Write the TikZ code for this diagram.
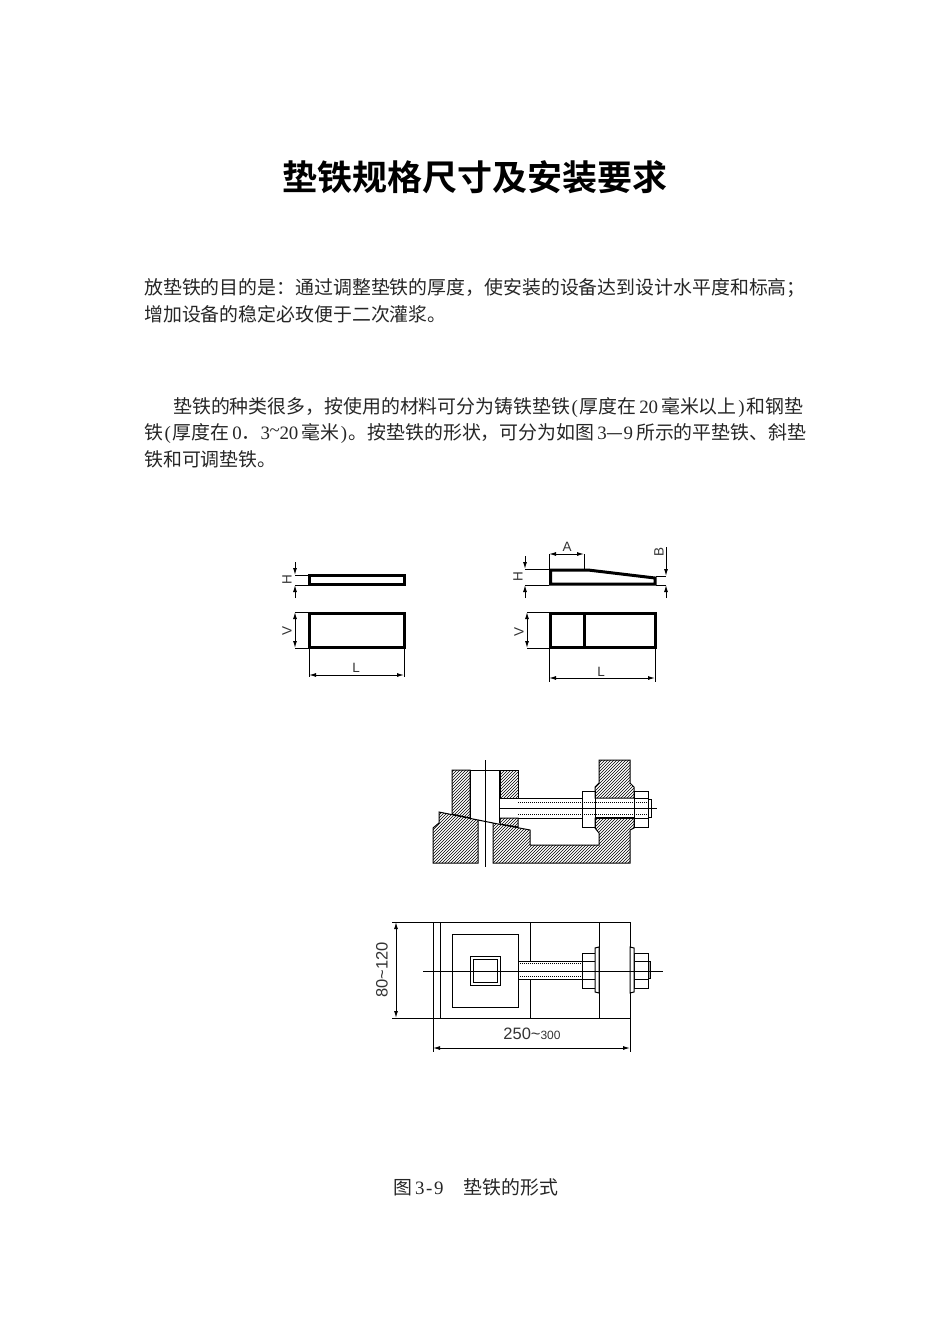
\documentclass[tikz,border=0pt]{standalone}
\usepackage{fontspec}
\usepackage{tikz}
\usetikzlibrary{patterns, positioning, arrows.meta}
\newfontfamily\cjk{Noto Sans CJK SC}
\newfontfamily\cjkb{Noto Sans CJK SC Bold}
\newfontfamily\latn{Liberation Serif}
\setsansfont{Liberation Sans}
\newcommand{\jz}[1]{\fontsize{#1}{#1}\selectfont}
\newcommand{\hw}[1]{{\latn\jz{18.9}\makebox[9.45pt]{#1}}}
\newcommand{\gp}{\hspace{3pt}}
\tikzset{%
    bodyline/.style={anchor=west, inner sep=0pt, text=black!85, font=\cjk\jz{18.9}},
    thickline/.style={line width=3pt, line join=miter},
    thinline/.style={line width=1pt},
    dimboth/.style={line width=1pt, {Latex[length=7pt,width=4pt]}-{Latex[length=7pt,width=4pt]}},
    dimin/.style={line width=1pt, -{Latex[length=7pt,width=4pt]}},
    dimlabel/.style={inner sep=0pt, text=black!80, font=\sffamily\jz{13.5}},
    biglabel/.style={inner sep=0pt, text=black!80, font=\sffamily\jz{16.5}},
    hatched/.style={draw, line width=1pt, pattern=north east lines}
}
\begin{document}
\begin{tikzpicture}[x=1pt,y=-1pt]
    \useasboundingbox (0,0) rectangle (950,1344);
    % text
    \node (title) [inner sep=0pt, font=\cjkb\jz{35}] at (475,177) {垫铁规格尺寸及安装要求};
    \node (p1) [bodyline] at (144,288) {放垫铁的目的是：通过调整垫铁的厚度，使安装的设备达到设计水平度和标高；};
    \node (p2) [bodyline] at (144,314) {增加设备的稳定必玫便于二次灌浆。};
    \node (p3) [bodyline] at (173,407) {垫铁的种类很多，按使用的材料可分为铸铁垫铁\hw{(}厚度在\gp\hw{2}\hw{0}\gp 毫米以上\hw{)}和钢垫};
    \node (p4) [bodyline] at (144,433) {铁\hw{(}厚度在\gp\hw{0}．\hw{3}\raisebox{3pt}{\hw{\char`\~}}\hw{2}\hw{0}\gp 毫米\hw{)}。按垫铁的形状，可分为如图\gp\hw{3}—\hw{9}\gp 所示的平垫铁、斜垫};
    \node (p5) [bodyline] at (144,459) {铁和可调垫铁。};
    \node (cap) [bodyline] at (393,1187) {图\gp\hw{3}\hw{-}\hw{9}\hspace{20pt}垫铁的形式};

    % flat pad
    \draw[thickline] (309.5,575.5) rectangle (404,584);
    \draw[thickline] (309.5,613.5) rectangle (404,647);
    \draw[thinline] (295,575) -- (308,575) (295,585) -- (308,585);
    \draw[dimin] (295,562) -- (295,575);
    \draw[dimin] (295,598) -- (295,585);
    \node (flatH) [dimlabel, rotate=90] at (287,580) {H};
    \draw[thinline] (295,612) -- (308,612) (295,648) -- (308,648);
    \draw[dimboth] (295,612) -- (295,648);
    \node (flatV) [dimlabel, rotate=90] at (287,631) {V};
    \draw[thinline] (309,648) -- (309,677) (404,648) -- (404,677);
    \draw[dimboth] (309,675) -- (404,675);
    \node (flatL) [dimlabel] at (356,668) {L};

    % taper pad
    \draw[thickline] (550.5,570) -- (588,570) -- (655,578) -- (655,584) -- (550.5,584) -- cycle;
    \draw[thickline] (550.5,613.5) rectangle (655,647);
    \draw[thickline] (584,613) -- (584,647);
    \draw[thinline] (525,569) -- (549,569) (525,585) -- (549,585);
    \draw[dimin] (525,556) -- (525,569);
    \draw[dimin] (525,598) -- (525,585);
    \node (taperH) [dimlabel, rotate=90] at (518,577) {H};
    \draw[thinline] (549,554) -- (549,569) (584,554) -- (584,569);
    \draw[dimboth] (549,554) -- (584,554);
    \node (taperA) [dimlabel] at (567,547) {A};
    \draw[thinline] (656,576) -- (666,576) (656,585) -- (666,585);
    \draw[dimin] (666,547) -- (666,576);
    \draw[dimin] (666,598) -- (666,585);
    \node (taperB) [dimlabel, rotate=90] at (659,552) {B};
    \draw[thinline] (527,612) -- (549,612) (527,648) -- (549,648);
    \draw[dimboth] (527,612) -- (527,648);
    \node (taperV) [dimlabel, rotate=90] at (519,632) {V};
    \draw[thinline] (549,648) -- (549,682) (655,648) -- (655,682);
    \draw[dimboth] (549,678) -- (655,678);
    \node (taperL) [dimlabel] at (601,672) {L};

    % adjustable pad, section
    \draw[hatched] (452,770) -- (470,770) -- (470,818) -- (452,814) -- cycle;
    \draw[hatched] (500,770) -- (518,770) -- (518,798) -- (500,798) -- cycle;
    \draw[hatched] (500,818) -- (518,818) -- (518,827) -- (500,824) -- cycle;
    \draw[hatched] (439,812) -- (478,820) -- (478,863) -- (433,863) -- (433,828) -- (439,823) -- cycle;
    \draw[hatched] (493,823) -- (530,830) -- (530,845) -- (599,845) -- (599,833) -- (595,828) -- (595,818)
        -- (634,818) -- (634,828) -- (630,830) -- (630,863) -- (493,863) -- cycle;
    \draw[hatched] (599,760) -- (630,760) -- (630,783) -- (634,787) -- (634,798) -- (595,798) -- (595,787) -- (599,783) -- cycle;
    \draw[line width=1.6pt] (595,818) -- (634,818);
    \draw[thinline] (470,770) -- (500,770);
    \draw[thinline] (478,820) -- (493,823);
    \draw[thinline] (485,760) -- (485,867);
    \draw[thinline] (470,770) -- (470,818) (499,770) -- (499,823);
    \draw[thinline] (518,798) -- (582,798) (518,818) -- (582,818);
    \draw[thinline] (500,808) -- (657,808);
    \foreach \ybolt in {802,814} {
        \draw[thinline, densely dotted] (518,\ybolt) -- (648,\ybolt);
    }
    \draw[thinline] (582,791) rectangle (595,827);
    \draw[thinline] (634,791) rectangle (648,827);
    \draw[thinline] (634,798) -- (648,798) (634,818) -- (648,818);
    \draw[thinline] (595,798) -- (595,818);
    \draw[thinline] (634,798) -- (634,818);
    \draw[thinline] (648,799) rectangle (651,817);

    % adjustable pad, plan
    \draw[thinline] (392,922) -- (630,922) (392,1018) -- (630,1018);
    \draw[thinline] (433,922) -- (433,1052) (630,922) -- (630,1052);
    \foreach \xline in {440,530,599} {
        \draw[thinline] (\xline,922) -- (\xline,1018);
    }
    \draw[thinline, fill=white] (452,934) rectangle (518,1007);
    \draw[thinline] (470,956) rectangle (500,985);
    \draw[thinline] (473,959) rectangle (497,982);
    \draw[thinline, fill=white] (518,961) rectangle (582,979);
    \draw[thinline, densely dotted] (518,963.5) -- (582,963.5) (518,976.5) -- (582,976.5);
    \draw[thinline, fill=white] (582,953) rectangle (595,988);
    \draw[thinline, fill=white] (634,953) rectangle (648,988);
    \draw[thinline] (582,961) -- (595,961) (582,979) -- (595,979) (634,961) -- (648,961) (634,979) -- (648,979);
    \draw[thinline, fill=white] (595,948) -- (599,947) -- (599,993) -- (595,992) -- cycle;
    \draw[thinline, fill=white] (630,947) -- (634,948) -- (634,992) -- (630,993) -- cycle;
    \draw[thinline, fill=black!35] (648,961) rectangle (650,978);
    \draw[thinline] (423,971) -- (663,971);
    \draw[dimboth] (396,922) -- (396,1018);
    \node (planH) [biglabel, rotate=90] at (382,970) {80\char`\~120};
    \draw[dimboth] (433,1048) -- (630,1048);
    \node (planL) [biglabel] at (532,1034) {250\char`\~{\jz{12}300}};
\end{tikzpicture}
\end{document}
